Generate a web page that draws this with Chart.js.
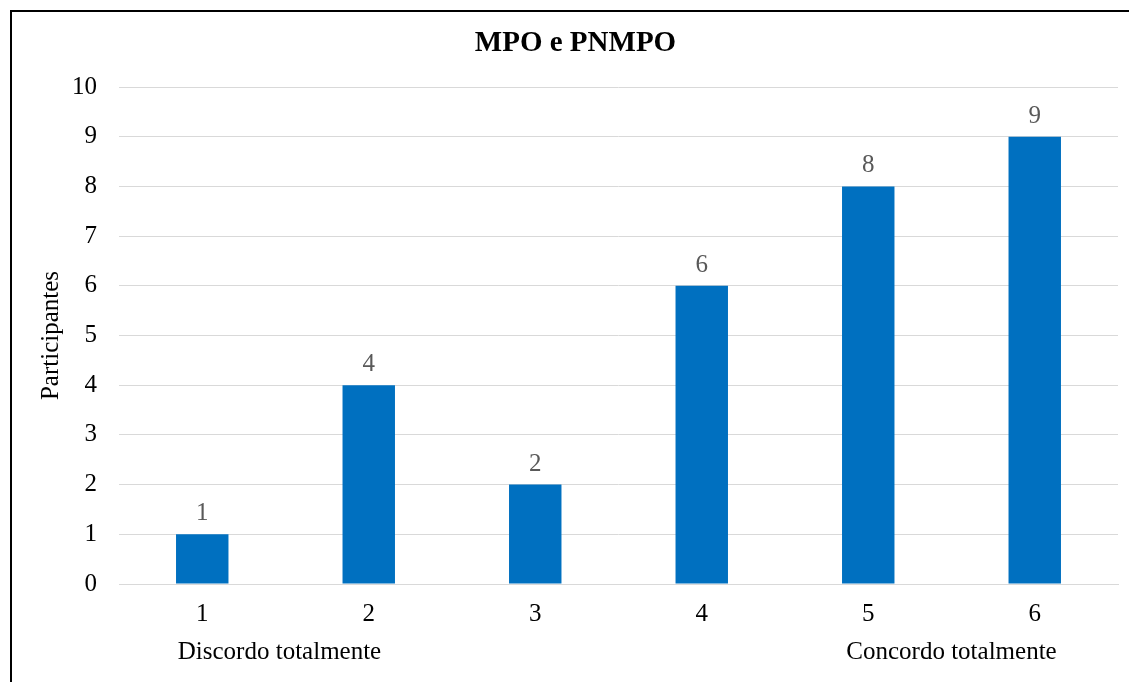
<!DOCTYPE html>
<html>
<head>
<meta charset="utf-8">
<script src="https://cdn.jsdelivr.net/npm/chart.js@4/dist/chart.umd.min.js"></script>
<style>
  html, body { margin: 0; padding: 0; background: #fff; overflow: hidden; }
  #wrap { position: relative; width: 1129px; height: 682px; }
  #frame { position: absolute; left: 10px; top: 10px; width: 2000px; height: 2000px;
           border-left: 2px solid #000; border-top: 2px solid #000; pointer-events: none; }
  canvas { position: absolute; left: 0; top: 0; }
</style>
</head>
<body>
<div id="wrap">
  <canvas id="c" width="1129" height="682"></canvas>
  <div id="frame"></div>
</div>
<script>
// Chart content
const chartTitle = 'MPO e PNMPO';
const yAxisTitle = 'Participantes';
const categories = ['1', '2', '3', '4', '5', '6'];
const participants = [1, 4, 2, 6, 8, 9];
const scaleEndLabels = ['Discordo totalmente', 'Concordo totalmente'];

const SERIF = '"Liberation Serif", "Times New Roman", serif';

// Title, value labels above the bars and the two scale-end captions
const decorations = {
  id: 'decorations',
  afterDatasetsDraw(chart) {
    const { ctx } = chart;
    const xs = chart.scales.x;
    ctx.save();
    // title
    ctx.font = 'bold 29px ' + SERIF;
    ctx.fillStyle = '#000';
    ctx.textAlign = 'center';
    ctx.textBaseline = 'middle';
    ctx.fillText(chartTitle, 575.5, 44);

    // values above bars
    ctx.font = '25px ' + SERIF;
    ctx.fillStyle = '#595959';
    ctx.textBaseline = 'alphabetic';
    const meta = chart.getDatasetMeta(0);
    meta.data.forEach((bar, i) => {
      ctx.fillText(String(participants[i]), bar.x, bar.y - 14);
    });

    // captions below the first two and the last two categories
    ctx.font = '25px ' + SERIF;
    ctx.fillStyle = '#000';
    ctx.textBaseline = 'middle';
    const n = categories.length;
    ctx.fillText(scaleEndLabels[0], xs.getPixelForValue(0.5) - 6, 652);
    ctx.fillText(scaleEndLabels[1], xs.getPixelForValue(n - 1.5), 652);
    ctx.restore();
  }
};

new Chart(document.getElementById('c'), {
  type: 'bar',
  data: {
    labels: categories,
    datasets: [{
      data: participants,
      backgroundColor: '#0070C0',
      borderWidth: 0,
      barPercentage: 0.315,
      categoryPercentage: 1
    }]
  },
  options: {
    responsive: false,
    devicePixelRatio: 1,
    animation: false,
    layout: { padding: { top: 87, right: 11, bottom: 0, left: 0 } },
    plugins: {
      legend: { display: false },
      title: { display: false },
      tooltip: { enabled: false }
    },
    scales: {
      x: {
        grid: { display: false, drawTicks: false },
        border: { display: true, color: '#D9D9D9', width: 1 },
        ticks: { color: '#000', font: { family: SERIF, size: 25 }, padding: 15, maxRotation: 0 },
        afterFit(scale) { scale.height = 98; }
      },
      y: {
        min: 0,
        max: 10,
        grid: { color: '#D9D9D9', lineWidth: 1, drawTicks: false },
        border: { display: false },
        ticks: { stepSize: 1, color: '#000', font: { family: SERIF, size: 25 }, padding: 22 },
        title: {
          display: true,
          text: yAxisTitle,
          color: '#000',
          font: { family: SERIF, size: 25 },
          padding: { top: 36, bottom: 0 }
        },
        afterFit(scale) { scale.width = 119; }
      }
    }
  },
  plugins: [decorations]
});
</script>
</body>
</html>
